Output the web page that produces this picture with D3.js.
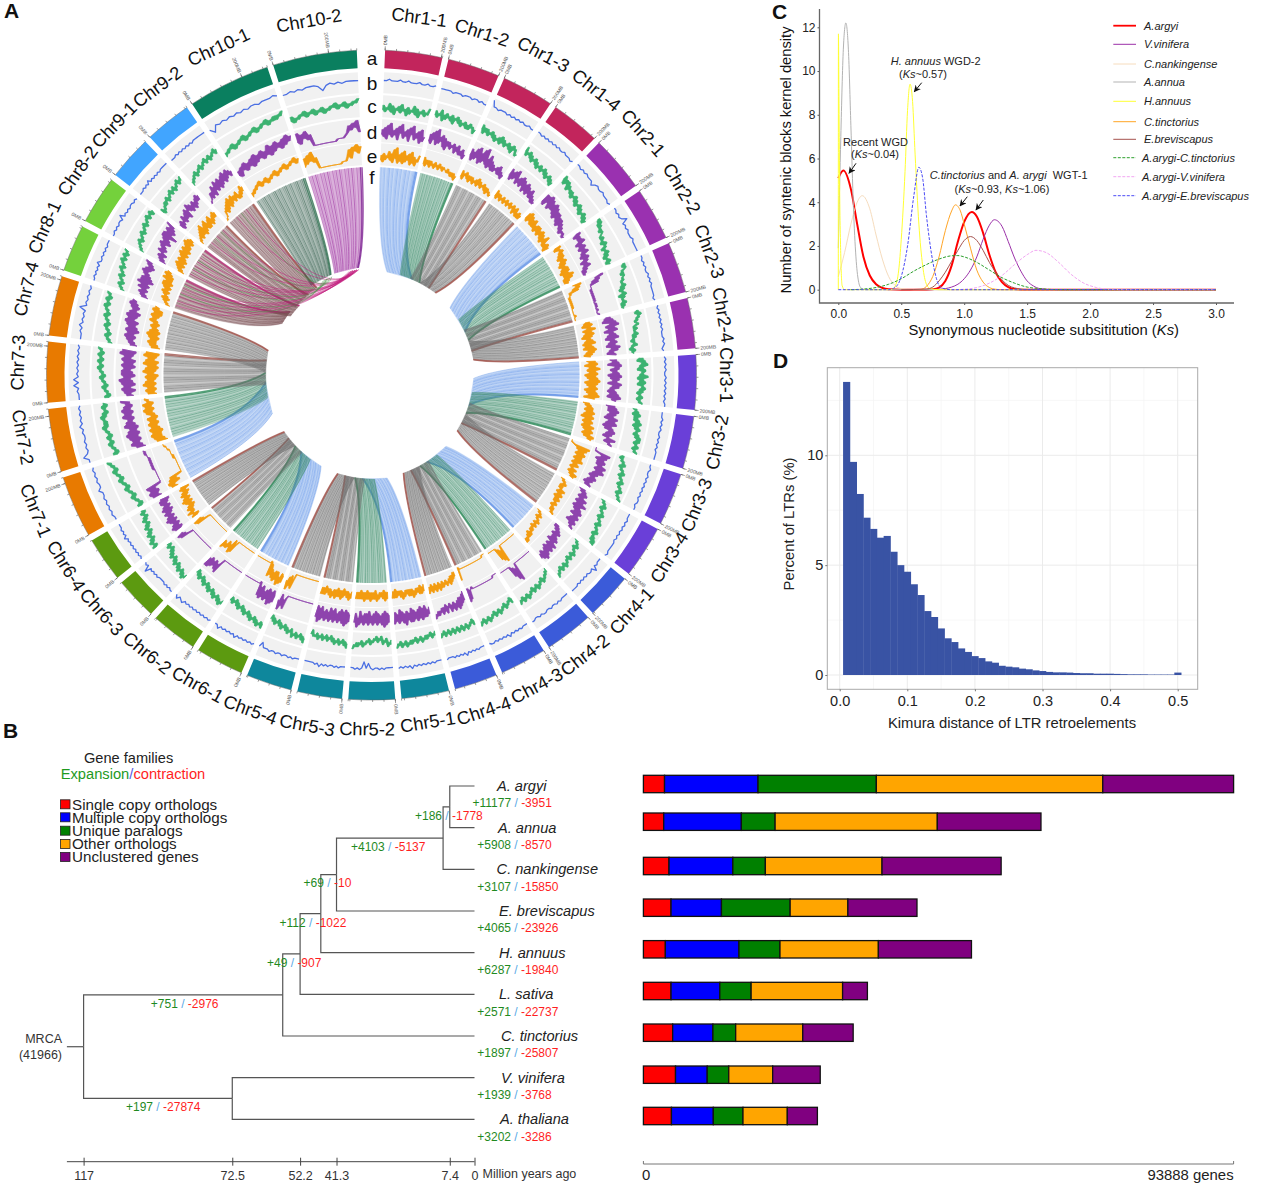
<!DOCTYPE html>
<html><head><meta charset="utf-8">
<script src="https://cdn.jsdelivr.net/npm/d3@7"></script>
<style>
html,body{margin:0;padding:0;background:#fff}
svg{display:block}
text{font-family:"Liberation Sans",Arial,sans-serif}
</style></head><body><div id="c"></div>
<script>
// ---------- Panel A data ----------
const chrNames=["Chr1-1","Chr1-2","Chr1-3","Chr1-4","Chr2-1","Chr2-2","Chr2-3","Chr2-4","Chr3-1","Chr3-2","Chr3-3","Chr3-4","Chr4-1","Chr4-2","Chr4-3","Chr4-4","Chr5-1","Chr5-2","Chr5-3","Chr5-4","Chr6-1","Chr6-2","Chr6-3","Chr6-4","Chr7-1","Chr7-2","Chr7-3","Chr7-4","Chr8-1","Chr8-2","Chr9-1","Chr9-2","Chr10-1","Chr10-2"];
const chrLengths=[204,186,186,176,200,190,182,180,196,188,188,188,166,174,166,154,170,166,160,164,172,166,152,160,222,226,216,214,168,172,158,168,296,300];
const chrWith200=["Chr1-1","Chr1-2","Chr1-3","Chr1-4","Chr2-1","Chr2-2","Chr2-3","Chr2-4","Chr3-1","Chr3-2","Chr3-3","Chr3-4","Chr4-1","Chr4-2","Chr7-1","Chr7-2","Chr7-3","Chr7-4","Chr10-1","Chr10-2"];
const chrColors={"1":"#c2255c","2":"#9a31b0","3":"#6a3fd8","4":"#3b5bd9","5":"#0e879c","6":"#5c9a10","7":"#e87a00","8":"#74d13c","9":"#41a5ff","10":"#0a7f5f"};
const trackB=["55655565565556556556","55555455545554554544","95545554545454544544","55454545454544544434","55454544424544544434","55454584545444544444","55454544545454444434","54545454545444545434",
"45454544545454545455","44454545445454545555","44544545454545455455","44454545454545555565","44454745545454545555","44445454454455454455","44454545464545454554","44454545464545454445",
"44454545454546454545","44445454454140454544","44454544545464544444","44454544544544544414","45454545464545454644","45454545454545465464","55454544445454548454","54545454545464545444",
"44545454544644545454","55854545445464545454","44454747454545454545","44454645454845454545","44545454644545454555","44545455474545455454","44454546454545455555","44454545454545555555","41545454545455455565","44545455541454545555"];
const trackC=["35243625143526341524362514352436","46354725364536254635243524253413","57364635463524352635243524153412","68465746354635243524352413241302","79586847564635463524352413241302","78685756465435342534132413021302","78687564654534352413240312130201","67586756456435343524231324120312",
"46375846375648364736574635463546","24352635364736475647586857685768","23132435243546354657465768576879","13243524354635465746576857686979","13243524354635463546574657465768","02132435243546354635465746574657","24132435243546354635465746574657","35243546354635463546354635463546",
"24352435354635463546465746574657","35462435132413243524354635464657","57463546354635243524352435243413","68574657465735463524352413241302","68576857465746354635243524132413","57685746574635463524352413241302","68796857685746574635463524132413","79687968576857465746354635243524",
"24132435243546354657465768576879","35243546354635465746465746354635","24132435243546354657465746574657","13243524354635465746576857685768","13243524354635465746576857685768","02132435243546354657465768576857","24132435354635465746574657685768","02132435243546354657465746576857","13243524354635465746576857686879","35243546354635463546574657465768"];
const trackD=["35261738253617482536174825361724","36274829364726153524351425131402","36152738162839251725141324151302","47263748253627361526152415130201","48385938474837263625152413021201","68475758364736473526351425130201","78462511110101010101001010010001","35261748263715362715362517362415",
"25361746253617263517362415261735","15262736251736271526473625483657","11113847263736483748362536251425","14253625372638263748375847385768","13142536253637264837483748594857","11111111111111111193826111111111","00000111111111111111111111011506","04152627364736473547364746575768",
"25361627162736271736283726173627","36271827362716273617262736174826","36271827162736172617362736172816","11111111111111111111111112736184","36172816273617260111111111111111","11111111111111111111384736473848","11111111111111111111111111137485","47384736473847364736273625362615",
"37483748111111111121212121222323","15273627382736283746384738473648","25361736172836172736172617362817","14253627361726372847382746374857","14253625372638172736475847364758","03142514362536472637481847384759","24152436253637265847364736475857","00112414261537263726374837485746","24153625362736473648374857485968","48375846111111111111222234758694"];
const trackE=["24152436251738152617253617251436","36253525342534253424332423131302","36254635253524352635243524142312","36253524352435243524351425131413","47384736373526362536251426131403","58476857473647362536261527261413","48573612110101010101000000010000","46372648263726153627152617362514",
"26371638263716273817263716273816","14253626372617362736283748374968","00012938473847374836473547364857","24354635354736473647465746575768","13243524354635463546465747576868","11111111111111111119382711111111","00001111111111111111111111111106","13142526354635463647364736473647",
"25362635364736363536473635362636","36372635364726363736263736263636","36473635263736263736473635263636","11111111111111111111111114827395","47385937384736170111111111111111","11111111111111111111371846375748","11111111111111111111111111128495","58476957584736473847364736253615",
"58693847111111111111212222233344","16273837283748374836485948594768","26372638273627163827162817362817","15263736273827364736485748373857","13243526354637463748384749485968","14253627362736473847384748594857","13243526373826374836374836475857","00112435263748374857475846475968","13243546354635465746576857687968","37485946111111111111122247386958"];
const linkWeights=["35246135724613572461357246135799","42635174263517426351742635170699","53746205374620537462053746205399","36274152627415263741526274152699","46135724613572461357246135724699","52617306261730526173052617305299","37462053746205374620537462053799","26351742635174263517426351742699",
"61357246135724613572461357246199","26173052617305261730526173052699","74620537462053746205374620537499","35174263517426351742635174263599","13572461357246135724613572461399","61730526173052617305261730526199","46205374620537462053746205374699","51742635174263517426351742635199",
"35724613572461357246135724613599","17305261730526173052617305261799","62053746205374620537462053746299","17426351742635174263517426351799","57246135724613572461357246135799","73052617305261730526173052617399","20537462053746205374620537462099","74263517426351742635174263517499",
"72461357246135724613572461357299","30526173052617305261730526173099","05374620537462053746205374620599","42635174263517426351742635174299","24613572461357246135724613572499","05261730526173052617305261730599","53746205374620537462053746205399","26351742635174263517426351742699","46135724613572461357246135724699","52617305261730526173052617305299"];
const linkKnot=[[28,.1,350],[28,.25,351],[28,.4,352],[28,.55,353],[28,.7,352],[28,.85,350],[29,.1,349],[29,.25,351],[29,.4,352],[29,.55,353],[29,.7,350],[29,.85,348],[30,.2,352],[30,.5,351],[30,.8,349],[31,.3,352],[31,.7,350]];
const linkKnotGreen=[[29,.3,334],[29,.6,336],[28,.5,333],[28,.8,335],[30,.4,335],[30,.7,337],[31,.5,338]];
const trackLetters=["a","b","c","d","e","f"];

// ---------- Panel C data ----------
const ksSeries=[
 {name:"A.argyi",color:"#ff0000",w:2,dash:null,ks:[0,.04,.1,.15,.2,.25,.3,.35,.4,.5,.7,.75,.8,.85,.9,.95,1,1.06,1.1,1.15,1.2,1.25,1.3,1.35,1.4,1.5,3],d:[5.1,5.45,4.6,3,1.5,.65,.25,.08,.02,0,0,.02,.1,.4,1.1,2.2,3.1,3.55,3.35,2.6,1.6,.8,.35,.12,.03,0,0]},
 {name:"V.vinifera",color:"#9b30a8",w:1,dash:null,ks:[.7,.8,.9,.95,1,1.05,1.1,1.15,1.2,1.24,1.3,1.35,1.4,1.45,1.5,1.55,1.6,1.7,3],d:[0,.02,.12,.25,.5,.9,1.5,2.3,2.95,3.2,2.9,2.2,1.45,.85,.4,.17,.05,0,0]},
 {name:"C.nankingense",color:"#f6dcbd",w:1,dash:null,ks:[0,.05,.1,.15,.19,.25,.3,.35,.4,.45,.5,.6,3],d:[.6,1.7,3,4,4.3,3.7,2.5,1.4,.6,.2,.05,0,0]},
 {name:"A.annua",color:"#b3b3b3",w:1,dash:null,ks:[0,.02,.04,.06,.08,.1,.12,.14,.16,.18,.22,3],d:[1.9,7,11,12.2,11,7.5,3.8,1.5,.4,.08,0,0]},
 {name:"H.annuus",color:"#ffff33",w:1,dash:null,ks:[0,.001,.005,.01,.02,.03,.05,.42,.45,.48,.5,.53,.55,.57,.59,.61,.64,.67,.7,.73,.8,3],d:[0,11.7,9,5,1.5,.2,0,0,.15,.9,2.3,5.4,8.2,9.4,8.6,6.2,3,1.1,.25,.05,0,0]},
 {name:"C.tinctorius",color:"#ffa526",w:1,dash:null,ks:[.65,.7,.75,.8,.85,.9,.93,.97,1,1.05,1.1,1.15,1.2,1.25,1.3,3],d:[0,.15,.6,1.5,2.7,3.6,3.88,3.6,3,1.9,.9,.35,.1,.02,0,0]},
 {name:"E.breviscapus",color:"#a5524e",w:1,dash:null,ks:[.5,.7,.75,.8,.85,.9,.95,1,1.05,1.1,1.15,1.2,1.25,1.3,1.35,1.4,1.5,3],d:[0,.03,.12,.4,.8,1.3,1.8,2.25,2.43,2.25,1.8,1.25,.8,.45,.2,.08,.01,0]},
 {name:"A.arygi-C.tinctorius",color:"#2ca02c",w:1,dash:"3,1.5",ks:[.1,.2,.3,.4,.5,.6,.7,.8,.9,.95,1,1.1,1.2,1.3,1.4,1.5,1.6,1.7,1.8,3],d:[0,.03,.1,.25,.5,.85,1.15,1.4,1.55,1.56,1.5,1.25,.9,.55,.3,.12,.05,.01,0,0]},
 {name:"A.arygi-V.vinifera",color:"#f2a6f2",w:1,dash:"3,1.5",ks:[.9,1,1.1,1.2,1.3,1.4,1.5,1.57,1.65,1.75,1.85,1.95,2.05,2.15,2.3,3],d:[0,.02,.1,.3,.65,1.15,1.6,1.8,1.7,1.25,.7,.3,.1,.02,0,0]},
 {name:"A.arygi-E.breviscapus",color:"#4a4af5",w:1,dash:"3,1.5",ks:[0,.4,.45,.5,.55,.6,.64,.67,.7,.75,.78,.8,.85,.9,3],d:[0,0,.1,.6,2,4.3,5.6,5.1,3.4,1.3,.5,.2,.03,0,0]}
];
// ---------- Panel D data ----------
const ltrPercent=[13.34,9.7,8.24,7.16,6.65,6.25,6.33,5.61,5,4.7,4.13,3.64,2.91,2.64,2.12,1.67,1.5,1.21,1.05,.86,.77,.62,.56,.42,.38,.35,.29,.26,.21,.18,.14,.12,.12,.11,.09,.08,.08,.06,.06,.06,.05,.04,.03,.03,.03,.02,.02,.02,.02,.11];
// ---------- Panel B data ----------
const phylo={age:117,children:[
 {age:57.4,gain:751,loss:2976,children:[
  {age:52.2,gain:49,loss:907,children:[
   {age:46,gain:112,loss:1022,children:[
    {age:41.3,gain:69,loss:10,children:[
     {age:9.4,gain:4103,loss:5137,children:[
      {age:7.4,gain:186,loss:1778,children:[{name:"A. argyi",age:0,gain:11177,loss:3951},{name:"A. annua",age:0,gain:5908,loss:8570}]},
      {name:"C. nankingense",age:0,gain:3107,loss:15850}]},
     {name:"E. breviscapus",age:0,gain:4065,loss:23926}]},
    {name:"H. annuus",age:0,gain:6287,loss:19840}]},
   {name:"L. sativa",age:0,gain:2571,loss:22737}]},
  {name:"C. tinctorius",age:0,gain:1897,loss:25807}]},
 {age:72.5,gain:197,loss:27874,children:[{name:"V. vinifera",age:0,gain:1939,loss:3768},{name:"A. thaliana",age:0,gain:3202,loss:3286}]}
]};
const ageTicks=[117,72.5,52.2,41.3,7.4,0];
const geneClasses=["Single copy orthologs","Multiple copy orthologs","Unique paralogs","Other orthologs","Unclustered genes"];
const geneClassColors=["#ff0000","#0000ff","#008000","#ffa500","#800080"];
const geneCounts=[[3363,14874,18818,36021,20812],[3233,12352,5368,25803,16490],[4074,10153,5174,18560,18948],[4398,8019,10929,9183,10994],[3492,11705,6532,15650,14809],[4398,7760,4980,14551,3945],[4656,6402,3622,10670,8019],[5109,5044,3427,6984,7566],[4462,6661,4721,7049,4786]];

const svg=d3.select("#c").append("svg").attr("width",1267).attr("height",1201).attr("viewBox","0 0 1267 1201");
const rad=d=>d*Math.PI/180;
svg.selectAll("text.pl").data([["A",4,18],["B",3,738],["C",772,19],["D",773,368]]).join("text").attr("class","pl")
 .attr("x",d=>d[1]).attr("y",d=>d[2]).attr("font-size",21).attr("font-weight","bold").attr("fill","#111").text(d=>d[0]);

// ---------- Circos ----------
const gA=svg.append("g").attr("transform","translate(371.5,375)");
const gapMb=22;
let cum=0;
const sectors=chrNames.map((n,i)=>{const s={name:n,i,len:chrLengths[i],start:cum};cum+=chrLengths[i]+gapMb;return s;});
const totalMb=cum-gapMb;
const angDeg=d3.scaleLinear().domain([0,totalMb]).range([2.4,357.4]);
const ang=(s,mb)=>rad(angDeg(s.start+mb));
const pt=(r,aRad)=>d3.pointRadial(aRad,r);
const chrKey=n=>n.slice(3).split("-")[0];
const arc=d3.arc();
gA.append("g").selectAll("path").data(sectors).join("path")
 .attr("d",s=>arc({innerRadius:307,outerRadius:325,startAngle:ang(s,0),endAngle:ang(s,s.len)}))
 .attr("fill",s=>chrColors[chrKey(s.name)]);
const gT=gA.append("g");
sectors.forEach(s=>{
 const ms=d3.range(0,s.len,40).concat([s.len]);
 const tk=d3.lineRadial().angle(d=>d[0]).radius(d=>d[1]);
 gT.append("path").attr("d",tk(d3.range(0,41).map(i=>[ang(s,s.len*i/40),325]))).attr("fill","none").attr("stroke","#666").attr("stroke-width",.5);
 ms.forEach(m=>{const a=ang(s,m);gT.append("path").attr("d",tk([[a,325],[a,327]])).attr("stroke","#555").attr("stroke-width",.6);});
 const labs=[[0,"0MB"]];
 if(chrWith200.includes(s.name)) labs.push([Math.min(200,s.len),"200MB"]);
 labs.forEach(([m,t])=>{
  const a=ang(s,m),deg=a*180/Math.PI;
  gT.append("path").attr("d",tk([[a,325],[a,329]])).attr("stroke","#555").attr("stroke-width",.6);
  const left=deg>180;
  gT.append("text").attr("transform",`rotate(${left?deg+90:deg-90}) translate(${left?-330:330},0)`)
   .attr("text-anchor",left?"end":"start").attr("dy",".35em").attr("font-size",5).attr("fill","#555").text(t);
 });
});
const chrLabelAng=[7.6,17.9,28.2,38.3,48.3,59,69.9,80.3,90,101,111.8,121.5,132.2,142.7,152,161.5,170.8,180.7,190.4,199.9,209.3,218.9,228.7,238,248,259.9,272,284,294.3,304.8,314.2,323.4,335,350];
const chrLabelRad=[361,360,364,363,364,362,360,357,355,352,350,349,351,352,352,354,351.5,354,356,356,355,357,359,360,362,354,354,356,359,358,359,359,362,360];
gA.append("g").selectAll("text").data(sectors).join("text").each(function(s){
 const deg=chrLabelAng[s.i],p=pt(chrLabelRad[s.i],rad(deg));
 const rot=(deg>90&&deg<270)?deg-180:deg;
 d3.select(this).attr("transform",`translate(${p[0]},${p[1]}) rotate(${rot})`);
}).attr("text-anchor","middle").attr("dy",".35em").attr("font-size",18.3).attr("fill","#111").text(s=>s.name);
// tracks
const bands=[{data:trackB,r:[282,303],rr:[287,301],c:"#4a6fe3",fill:false},{data:trackC,r:[258,280],rr:[259,279],c:"#3cb371",fill:true},{data:trackD,r:[233,256],rr:[234,255],c:"#8e44ad",fill:true},{data:trackE,r:[210,232],rr:[211,231],c:"#f39c12",fill:true}];
bands.forEach(b=>{
 const g=gA.append("g");
 g.selectAll("path.bg").data(sectors).join("path").attr("class","bg")
  .attr("d",s=>arc({innerRadius:b.r[0],outerRadius:b.r[1],startAngle:ang(s,0),endAngle:ang(s,s.len)})).attr("fill","#f1f1f1");
 const ry=d3.scaleLinear().domain([0,9]).range(b.rr);
 const lr=d3.lineRadial().angle(d=>d[0]).radius(d=>d[1]);
 const vals=s=>b.data[s.i].split("").map(Number);
 const a=(s,i,n)=>ang(s,s.len*i/(n-1));
 if(b.fill) g.selectAll("path.env").data(sectors).join("path").attr("class","env").attr("fill",b.c).attr("stroke",b.c).attr("stroke-width",.5)
  .attr("d",s=>{const v=vals(s),n=v.length;
    const hi=v.map((d,i)=>[a(s,i,n),ry(Math.max(d,v[Math.min(i+1,n-1)]))]);
    const lo=v.map((d,i)=>[a(s,i,n),ry(Math.min(d,v[Math.min(i+1,n-1)]))]).reverse();
    return lr(hi.concat(lo))+"Z";});
 g.selectAll("path.ln").data(sectors).join("path").attr("class","ln").attr("fill","none").attr("stroke",b.c).attr("stroke-width",b.fill?.8:1.3)
  .attr("stroke-linejoin","round").attr("d",s=>{const v=vals(s),n=v.length;return lr(v.map((d,i)=>[a(s,i,n),ry(d)]));});
});
trackLetters.forEach((t,i)=>{gA.append("text").attr("x",.5).attr("y",[58,83,106,132,156,177][i]-375).attr("dy",".35em").attr("text-anchor","middle").attr("font-size",19).attr("fill","#111").text(t);});
// synteny fans
const hubArcs=[[8.6,38,104],[49.5,81.6,103],[92,123,102],[133.6,162,103],[171.4,199,104],[209,237,104],[249,283.4,106]];
const roleSpan=[[0,.5],[.25,.65],[.45,.85],[.65,1]];
const roleCol=[{c:"#6f9eea",rim:"#5f90e6"},{c:"#3f8d6c",rim:"#2c8a58"},{c:"#6f6f6f",rim:"#a3544c"},{c:"#6f6f6f",rim:"#a3544c"}];
const lastHubs=[[300,308,103],[306,314,100],[312,322,102],[320,328,103],[326,338,108],[340,353,108]];
const lastCol=[{c:"#75494d",rim:"#b02a70"},{c:"#75494d",rim:"#b02a70"},{c:"#75494d",rim:"#a3544c"},{c:"#75494d",rim:"#a3544c"},{c:"#2f5a48",rim:"#2e6f4f"},{c:"#98279c",rim:"#7a1f90"}];
function fanInfo(s){
 if(s.i<28){const g=Math.floor(s.i/4),k=s.i%4,h=hubArcs[g],sp=roleSpan[k];
  return {a0:h[0]+(h[1]-h[0])*sp[0],a1:h[0]+(h[1]-h[0])*sp[1],r:h[2],col:roleCol[k]};}
 const h=lastHubs[s.i-28];return {a0:h[0],a1:h[1],r:h[2],col:lastCol[s.i-28]};
}
function strand(aS,aH,rH){
 const c1=pt(150,aS),c2=pt(rH+14,aH+(aS-aH)*.6),p0=pt(208,aS),p1=pt(rH,aH);
 return {p0,c1,c2,p1};
}
const gF=gA.append("g");
sectors.forEach(s=>{
 const f=fanInfo(s),aS0=ang(s,0),aS1=ang(s,s.len),h0=rad(f.a0),h1=rad(f.a1);
 const A=strand(aS0,h0,f.r),B=strand(aS1,h1,f.r);
 const p=d3.path();
 p.moveTo(...A.p0);p.bezierCurveTo(...A.c1,...A.c2,...A.p1);
 p.lineTo(...B.p1);p.bezierCurveTo(...B.c2,...B.c1,...B.p0);
 p.arc(0,0,208,aS1-Math.PI/2,aS0-Math.PI/2,true);p.closePath();
 gF.append("path").attr("d",p.toString()).attr("fill",f.col.c).attr("fill-opacity",.36);
 const w=linkWeights[s.i],n=w.length;
 w.split("").forEach((dg,i)=>{
  const t=i/(n-1),v=+dg;if(v===0)return;
  const S=strand(ang(s,s.len*t),h0+(h1-h0)*t,f.r);
  const q=d3.path();q.moveTo(...S.p0);q.bezierCurveTo(...S.c1,...S.c2,...S.p1);
  gF.append("path").attr("d",q.toString()).attr("fill","none")
   .attr("stroke",v===9?f.col.rim:f.col.c).attr("stroke-width",v===9?1.3:.9).attr("stroke-opacity",v===9?.75:v*.085);
 });
});
[[linkKnot,"#c0187a"],[linkKnotGreen,"#4c9a4c"]].forEach(([list,col])=>{
 list.forEach(([si,fr,k])=>{
  const s=sectors[si],a=ang(s,s.len*fr),ka=rad(k);
  const q=d3.path(),p0=pt(208,a),c1=pt(130,a),c2=pt(90,rad((a*180/Math.PI+k)/2)),p1=pt(106,ka);
  q.moveTo(...p0);q.bezierCurveTo(...c1,...c2,...p1);
  gF.append("path").attr("d",q.toString()).attr("fill","none").attr("stroke",col).attr("stroke-width",.9).attr("stroke-opacity",.55);
 });
});

// ---------- Panel C ----------
const gC=svg.append("g");
const xC=d3.scaleLinear().domain([0,3]).range([838.3,1216]);
const yC=d3.scaleLinear().domain([0,12]).range([289.7,27.3]);
const axC=gC.append("g").attr("transform","translate(0,303)").call(d3.axisBottom(xC).tickValues([0,.5,1,1.5,2,2.5,3]).tickFormat(d3.format(".1f")).tickSize(2).tickPadding(4));
const ayC=gC.append("g").attr("transform","translate(819.5,0)").call(d3.axisLeft(yC).tickValues([0,2,4,6,8,10,12]).tickSize(2).tickPadding(2));
[axC,ayC].forEach(a=>{a.selectAll("text").attr("font-size",12).attr("font-family",'"Liberation Sans"').attr("fill","#222");a.selectAll("line").attr("stroke","#555");a.select(".domain").remove();});
gC.append("path").attr("d",d3.line()([[819.5,9],[819.5,303],[1234,303]])).attr("fill","none").attr("stroke","#666").attr("stroke-width",1.3);
const lineC=d3.line().curve(d3.curveMonotoneX);
gC.selectAll("path.ks").data(ksSeries).join("path").attr("class","ks").attr("fill","none")
 .attr("stroke",d=>d.color).attr("stroke-width",d=>d.w).attr("stroke-dasharray",d=>d.dash)
 .attr("d",d=>lineC(d.ks.map((k,i)=>[xC(k),yC(d.d[i])])));
const legY=[25.7,44.3,64,82,101.3,121.7,139.3,157.7,176.7,195.7];
ksSeries.forEach((d,i)=>{
 gC.append("line").attr("x1",1113.3).attr("x2",1136).attr("y1",legY[i]).attr("y2",legY[i]).attr("stroke",d.color).attr("stroke-width",d.w===2?1.8:1).attr("stroke-dasharray",d.dash);
 gC.append("text").attr("x",i>=7?1142:1144).attr("y",legY[i]).attr("dy",".35em").attr("font-size",11).attr("font-style","italic").attr("fill","#222").text(d.name);
});
gC.append("text").attr("transform","translate(786,160) rotate(-90)").attr("text-anchor","middle").attr("dy",".35em").attr("font-size",14.7).attr("fill","#111").text("Number of syntenic blocks kernel density");
const xT=gC.append("text").attr("x",1043.7).attr("y",330).attr("text-anchor","middle").attr("dy",".35em").attr("font-size",14.8).attr("fill","#111");
xT.append("tspan").text("Synonymous nucleotide subsititution (");xT.append("tspan").attr("font-style","italic").text("Ks");xT.append("tspan").text(")");
function rich(g,x,y,parts,size){
 const t=g.append("text").attr("x",x).attr("y",y).attr("text-anchor","middle").attr("dy",".35em").attr("font-size",size||11).attr("fill","#222");
 parts.forEach(([s,it])=>t.append("tspan").attr("font-style",it?"italic":null).text(s));
}
rich(gC,935.7,61,[["H. annuus ",1],["WGD-2",0]]);
rich(gC,923,73.7,[["(",0],["Ks",1],["~0.57)",0]]);
rich(gC,875.5,142,[["Recent WGD",0]]);
rich(gC,875,154.3,[["(",0],["Ks",1],["~0.04)",0]]);
rich(gC,1008.7,175,[["C.tinctorius ",1],["and ",0],["A. arygi",1],["\u00a0\u00a0WGT-1",0]]);
rich(gC,1002,189.3,[["(",0],["Ks",1],["~0.93, ",0],["Ks",1],["~1.06)",0]]);
const defs=svg.append("defs");
defs.append("marker").attr("id","ah").attr("viewBox","0 0 10 10").attr("refX",9).attr("refY",5).attr("markerWidth",7).attr("markerHeight",7).attr("orient","auto")
 .append("path").attr("d","M0,0L10,5L0,10L3,5z").attr("fill","#111");
[[856,163.3,849,173.3],[921.7,82.7,914.3,91.7],[967.3,196.7,960,206],[983.3,200,976,210]].forEach(a=>{
 gC.append("line").attr("x1",a[0]).attr("y1",a[1]).attr("x2",a[2]).attr("y2",a[3]).attr("stroke","#111").attr("stroke-width",1).attr("marker-end","url(#ah)");
});

// ---------- Panel D ----------
const gD=svg.append("g");
const xD=d3.scaleLinear().domain([0,.5]).range([839.7,1177.7]);
const yD=d3.scaleLinear().domain([0,10]).range([675,455.3]);
const Dl=827.3,Dr=1197.7,Dt=367.7,Db=689.3;
[0.05,.15,.25,.35,.45].forEach(v=>gD.append("line").attr("x1",xD(v)).attr("x2",xD(v)).attr("y1",Dt).attr("y2",Db).attr("stroke","#f3f3f3").attr("stroke-width",.7));
[2.5,7.5,12.5].forEach(v=>gD.append("line").attr("y1",yD(v)).attr("y2",yD(v)).attr("x1",Dl).attr("x2",Dr).attr("stroke","#f3f3f3").attr("stroke-width",.7));
[0,.1,.2,.3,.4,.5].forEach(v=>gD.append("line").attr("x1",xD(v)).attr("x2",xD(v)).attr("y1",Dt).attr("y2",Db).attr("stroke","#ebebeb"));
[0,5,10].forEach(v=>gD.append("line").attr("y1",yD(v)).attr("y2",yD(v)).attr("x1",Dl).attr("x2",Dr).attr("stroke","#ebebeb"));
gD.selectAll("rect.b").data(ltrPercent).join("rect").attr("class","b")
 .attr("x",(d,i)=>xD(.005+i*.01)).attr("width",xD(.01)-xD(0)+.4).attr("y",d=>yD(d)).attr("height",d=>yD(0)-yD(d)).attr("fill","#3953a4");
gD.append("rect").attr("x",Dl).attr("y",Dt).attr("width",Dr-Dl).attr("height",Db-Dt).attr("fill","none").attr("stroke","#aaa").attr("stroke-width",1);
const axD=gD.append("g").attr("transform",`translate(0,${Db})`).call(d3.axisBottom(xD).tickValues([0,.1,.2,.3,.4,.5]).tickFormat(d3.format(".1f")).tickSize(2).tickPadding(4));
const ayD=gD.append("g").attr("transform",`translate(${Dl},0)`).call(d3.axisLeft(yD).tickValues([0,5,10]).tickFormat(d3.format("d")).tickSize(2).tickPadding(2));
[axD,ayD].forEach(a=>{a.selectAll("text").attr("font-size",14.5).attr("font-family",'"Liberation Sans"').attr("fill","#222");a.selectAll("line").attr("stroke","#777");a.select(".domain").remove();});
gD.append("text").attr("x",1012).attr("y",723).attr("text-anchor","middle").attr("dy",".35em").attr("font-size",14.8).attr("fill","#222").text("Kimura distance of LTR retroelements");
gD.append("text").attr("transform","translate(789,524) rotate(-90)").attr("text-anchor","middle").attr("dy",".35em").attr("font-size",14.8).attr("fill","#222").text("Percent of LTRs (%)");

// ---------- Panel B ----------
const gB=svg.append("g");
const xAge=d3.scaleLinear().domain([117,0]).range([83.6,474.5]);
const root=d3.hierarchy(phylo);
const leaves=root.leaves();
const yLeaf=d3.scalePoint().domain(leaves.map(d=>d.data.name)).range([786,1119.3]);
root.eachAfter(n=>{n.y=n.children?d3.mean(n.children,c=>c.y):yLeaf(n.data.name);n.x=xAge(n.data.age);});
const elbow=l=>`M${l.source.x},${l.source.y}V${l.target.y}H${l.target.x}`;
gB.selectAll("path.t").data(root.links()).join("path").attr("class","t").attr("d",elbow).attr("fill","none").attr("stroke","#555").attr("stroke-width",1.2);
gB.append("line").attr("x1",xAge(122)).attr("x2",root.x).attr("y1",root.y).attr("y2",root.y).attr("stroke","#555").attr("stroke-width",1.2);
gB.append("text").attr("x",62).attr("y",1038.7).attr("dy",".35em").attr("text-anchor","end").attr("font-size",12.5).attr("fill","#333").text("MRCA");
gB.append("text").attr("x",62).attr("y",1055).attr("dy",".35em").attr("text-anchor","end").attr("font-size",12.5).attr("fill","#333").text("(41966)");
function gainLoss(x,y,d){
 const t=gB.append("text").attr("x",x).attr("y",y).attr("dy",".35em").attr("font-size",12);
 t.append("tspan").attr("fill","#1f8a1f").text("+"+d.gain);
 t.append("tspan").attr("fill","#5aa9e6").text(" / ");
 t.append("tspan").attr("fill","#ff1f1f").text("-"+d.loss);
}
const leafX={"A. argyi":497,"A. annua":498,"C. nankingense":496.6,"E. breviscapus":499,"H. annuus":499,"L. sativa":499,"C. tinctorius":501,"V. vinifera":501,"A. thaliana":500};
leaves.forEach(l=>{
 gB.append("text").attr("x",leafX[l.data.name]).attr("y",l.y).attr("dy",".35em").attr("font-size",14.6).attr("font-style","italic").attr("fill","#222").text(l.data.name);
 gainLoss(l.data.name==="A. argyi"?472.5:477.3,l.y+17,l.data);
});
const innerLab={7.4:[415,815.7],9.4:[351,846.7],41.3:[303.6,883],46:[279.5,922.3],52.2:[267,962.7],57.4:[150.8,1003.3],72.5:[126,1107]};
root.descendants().filter(n=>n.children&&n.parent).forEach(n=>{const p=innerLab[n.data.age];gainLoss(p[0],p[1],n.data);});
const axAge=gB.append("g").attr("transform","translate(0,1161.7)").call(d3.axisBottom(xAge).tickValues(ageTicks).tickFormat(d=>d).tickSize(4).tickPadding(5));
axAge.select(".domain").remove();
axAge.selectAll("line").attr("y1",-4).attr("y2",4).attr("stroke","#444");
axAge.selectAll("text").attr("font-size",12.5).attr("font-family",'"Liberation Sans"').attr("fill","#333");
gB.append("line").attr("x1",xAge(122)).attr("x2",xAge(0)).attr("y1",1161.7).attr("y2",1161.7).attr("stroke","#444").attr("stroke-width",1);
gB.append("text").attr("x",482.5).attr("y",1173.7).attr("dy",".35em").attr("font-size",12.5).attr("fill","#333").text("Million years ago");
gB.append("text").attr("x",84).attr("y",757.7).attr("dy",".35em").attr("font-size",14.6).attr("fill","#222").text("Gene families");
const exp=gB.append("text").attr("x",60.7).attr("y",773.7).attr("dy",".35em").attr("font-size",14.7);
exp.append("tspan").attr("fill","#1f9a1f").text("Expansion");exp.append("tspan").attr("fill","#5a5ae0").text("/");exp.append("tspan").attr("fill","#ff1f1f").text("contraction");
const legB=[804.3,817.3,830.7,844,857];
geneClasses.forEach((c,i)=>{
 gB.append("rect").attr("x",60.5).attr("y",legB[i]-4.5).attr("width",9.5).attr("height",9).attr("fill",geneClassColors[i]).attr("stroke","#222").attr("stroke-width",.8);
 gB.append("text").attr("x",72).attr("y",legB[i]).attr("dy",".35em").attr("font-size",15.2).attr("fill","#222").text(c);
});
const xG=d3.scaleLinear().domain([0,93888]).range([643.4,1233.6]);
const barY=[784,821.7,866,907.7,949.3,991,1032.7,1074.7,1116];
geneCounts.forEach((row,ri)=>{
 let c=0;
 row.forEach((v,ci)=>{
  gB.append("rect").attr("x",xG(c)).attr("y",barY[ri]-8.7).attr("width",xG(c+v)-xG(c)).attr("height",17.4)
   .attr("fill",geneClassColors[ci]).attr("stroke","#111").attr("stroke-width",1.3);
  c+=v;
 });
});
gB.append("path").attr("d",`M${xG(0)},1161V1164H${xG(93888)}V1161`).attr("fill","none").attr("stroke","#777").attr("stroke-width",1);
gB.append("text").attr("x",642).attr("y",1174.5).attr("dy",".35em").attr("font-size",14.9).attr("fill","#222").text("0");
gB.append("text").attr("x",1233.6).attr("y",1174.5).attr("dy",".35em").attr("text-anchor","end").attr("font-size",14.9).attr("fill","#222").text("93888 genes");
</script></body></html>
